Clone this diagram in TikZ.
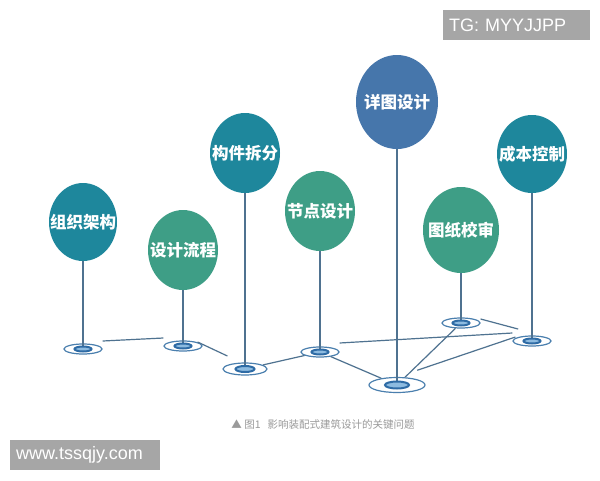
\documentclass[tikz,border=0pt]{standalone}
\usepackage{fontspec}
\setmainfont{Liberation Sans}
\newfontfamily\cjk{Noto Sans CJK SC}
\usetikzlibrary{shapes.geometric}
\definecolor{cteal}{HTML}{1E879C}
\definecolor{cgreen}{HTML}{3E9E86}
\definecolor{cblue}{HTML}{4676AB}
\definecolor{cline}{HTML}{4F7290}
\definecolor{cring}{HTML}{4A7FAE}
\definecolor{cinner}{HTML}{2E6BA5}
\definecolor{cinfill}{HTML}{8DBBE0}
\definecolor{cbox}{HTML}{A6A6A6}
\definecolor{ccap}{HTML}{9A9A9A}
\tikzset{
  bub/.style={ellipse, inner sep=0pt, minimum width=70pt, minimum height=80pt},
  btxt/.style={text=white, font=\cjk\bfseries\fontsize{16.5}{16.5}\selectfont, inner sep=0pt},
  ringo/.style={ellipse, draw=cring, line width=1.2pt, fill=white, inner sep=0pt, minimum width=38pt, minimum height=10pt},
  ringi/.style={ellipse, draw=cinner, line width=2pt, fill=cinfill, inner sep=0pt, minimum width=17pt, minimum height=5pt},
  stem/.style={draw=cline, line width=1.3pt},
  link/.style={draw=cline, line width=1.2pt},
  wbox/.style={fill=cbox, text=white, font=\fontsize{18}{18}\selectfont, inner sep=0pt, anchor=west}
}
\begin{document}
\begin{tikzpicture}[x=1pt, y=-1pt]
\useasboundingbox (0,0) rectangle (600,480);
\fill[white] (0,0) rectangle (600,480);
% rings (outer)
\node[ringo] (r1) at (83,349) {};
\node[ringo] (r2) at (183,346) {};
\node[ringo, minimum width=44pt, minimum height=12pt] (r3) at (245,369) {};
\node[ringo] (r4) at (320,352) {};
\node[ringo, minimum width=56pt, minimum height=15pt] (r5) at (397,385) {};
\node[ringo] (r6) at (461,323) {};
\node[ringo] (r7) at (532,341) {};
% bubbles
\node[bub, fill=cteal, minimum width=68pt, minimum height=78pt] (c1) at (83,222) {};
\node[bub, fill=cgreen] (c2) at (183,250) {};
\node[bub, fill=cteal] (c3) at (245,153) {};
\node[bub, fill=cgreen] (c4) at (320,211) {};
\node[bub, fill=cblue, minimum width=82pt, minimum height=94pt] (c5) at (397,102) {};
\node[bub, fill=cgreen, minimum width=76pt, minimum height=86pt] (c6) at (461,230) {};
\node[bub, fill=cteal, minimum width=70pt, minimum height=78pt] (c7) at (532,154) {};
\node[btxt] at (c1) {组织架构};
\node[btxt] at (c2) {设计流程};
\node[btxt] at (c3) {构件拆分};
\node[btxt] at (c4) {节点设计};
\node[btxt] at (c5) {详图设计};
\node[btxt] at (c6) {图纸校审};
\node[btxt] at (c7) {成本控制};
% stems
\draw[stem] (c1.south) -- (r1.center);
\draw[stem] (c2.south) -- (r2.center);
\draw[stem] (c3.south) -- (r3.center);
\draw[stem] (c4.south) -- (r4.center);
\draw[stem] (c5.south) -- (r5.center);
\draw[stem] (c6.south) -- (r6.center);
\draw[stem] (c7.south) -- (r7.center);
% links between rings
\draw[link] ([yshift=8pt]r1.east) -- ([yshift=8pt]r2.west);
\draw[link] ([shift={(-5pt,4pt)}]r2.east) -- ([shift={(5pt,13pt)}]r3.west);
\draw[link] (r3) -- (r4);
\draw[link] (r4) -- (r5);
\draw[link] ([yshift=9pt]r4.east) -- ([yshift=8pt]r7.west);
\draw[link] (r5) -- (r6);
\draw[link] ([yshift=9pt]r5.north east) -- ([shift={(3pt,4pt)}]r7.west);
\draw[link] ([yshift=4pt]r6.east) -- ([yshift=8pt]r7.north west);
% inner rings
\node[ringi] (i1) at (r1) {};
\node[ringi] (i2) at (r2) {};
\node[ringi, minimum width=19pt, minimum height=6pt] (i3) at (r3) {};
\node[ringi] (i4) at (r4) {};
\node[ringi, minimum width=24pt, minimum height=7pt] (i5) at (r5) {};
\node[ringi] (i6) at (r6) {};
\node[ringi] (i7) at (r7) {};
% caption
\node[text=ccap, font=\cjk\fontsize{10.5}{10.5}\selectfont, inner sep=0pt] (cap) at (323,425) {▲ 图1\hspace{7pt}影响装配式建筑设计的关键问题};
% watermark boxes
\node[wbox, minimum height=30pt, text width=135pt, align=left, inner xsep=6pt] (tg) at (443,25) {TG: MYYJJPP};
\node[wbox, minimum height=30pt, text width=138pt, align=left, inner xsep=6pt] (www) at (10,455) {www.tssqjy.com};
\end{tikzpicture}
\end{document}
